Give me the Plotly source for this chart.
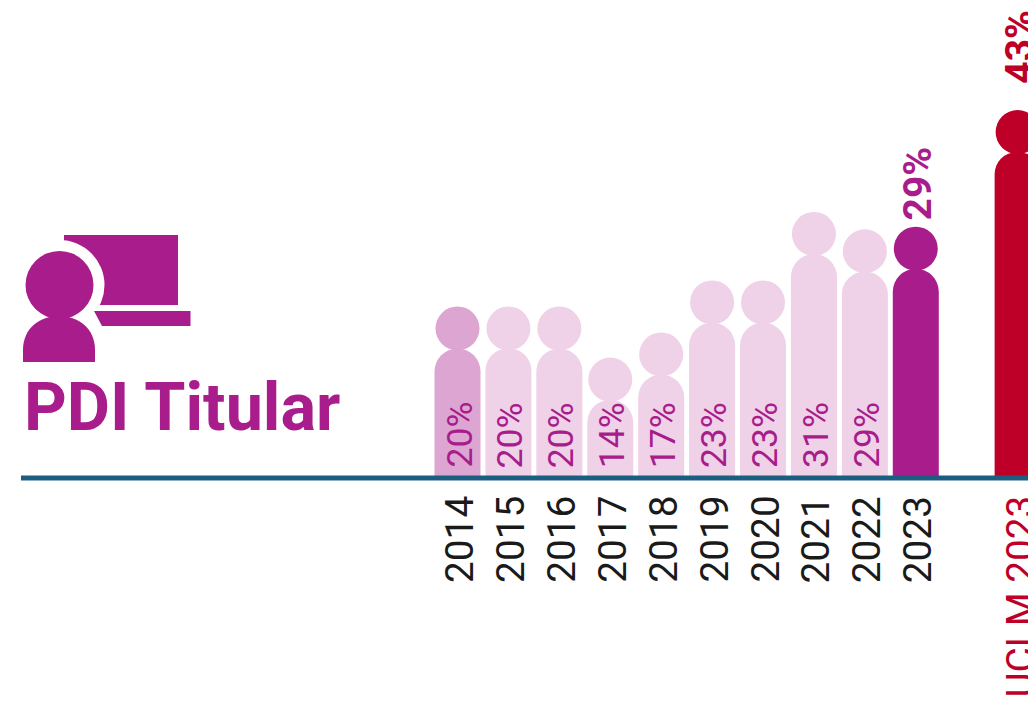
import plotly.graph_objects as go

# ---- data ----
years = ["2014", "2015", "2016", "2017", "2018", "2019", "2020", "2021", "2022", "2023"]
values = [20.0, 20.0, 20.0, 14.1, 17.0, 23.0, 23.0, 30.9, 28.9, 29.2]
value_labels = ["20%", "20%", "20%", "14%", "17%", "23%", "23%", "31%", "29%", "29%"]
positions = [0, 1, 2, 3, 4, 5, 6, 7, 8, 9]
uclm_label = "UCLM 2023"
uclm_value = 42.65
uclm_value_label = "43%"
uclm_position = 11
title_text = "PDI Titular"

# ---- style ----
PURPLE = "#A81C8B"
LIGHT = "#EFD1E8"
MID = "#DCA5D2"
CRIMSON = "#BE0029"
NAVY = "#1B5E82"
BLACK = "#1a1a1a"
FONT = "Roboto"
W, H = 1028, 702
BASE = 5.07
HEAD_OFFSET = 2.32
PX_PER_UNIT = 8.67
BASE_PX = 478
PX_PER_X = 50.92
X0_PX = 457.5

colors = [MID] + [LIGHT] * 8 + [PURPLE] + [CRIMSON]
all_x = positions + [uclm_position]
all_v = values + [uclm_value]

fig = go.Figure()
fig.add_trace(go.Bar(x=all_x, y=all_v, width=46 / PX_PER_X,
                     marker=dict(color=colors, line=dict(width=0)), hoverinfo="skip", showlegend=False))
fig.add_trace(go.Scatter(x=all_x, y=[v + HEAD_OFFSET for v in all_v], mode="markers",
                         marker=dict(size=44, color=colors, line=dict(width=0)), hoverinfo="skip",
                         showlegend=False, cliponaxis=False))

ann = []
def label(x, y, text, color, size, anchor, bold=False, yshift=0):
    ann.append(dict(x=x, y=y, xref="x", yref="y", text=f"<b>{text}</b>" if bold else text,
                    textangle=-90, showarrow=False, xanchor="center", yanchor=anchor,
                    xshift=2, yshift=yshift, borderpad=0,
                    font=dict(family=FONT, size=size, color=color)))

for x, y, v, t in zip(positions, years, values, value_labels):
    label(x, BASE, y, BLACK, 38.8, "top", yshift=-17)
    if y != years[-1]:
        label(x, BASE, t, PURPLE, 35.5, "bottom", yshift=9)
    else:
        label(x, v + HEAD_OFFSET, t, PURPLE, 39, "bottom", bold=True, yshift=27)
label(uclm_position, BASE, uclm_label, CRIMSON, 38.8, "top", yshift=-17)
label(uclm_position, uclm_value + HEAD_OFFSET, uclm_value_label, CRIMSON, 39, "bottom", bold=True, yshift=47)

ann.append(dict(x=22.5 / W, y=1 - 407 / H, xref="paper", yref="paper", text=f"<b>{title_text}</b>",
                showarrow=False, xanchor="left", yanchor="middle", borderpad=0,
                font=dict(family=FONT, size=66.5, color=PURPLE)))

def px(x):
    return x / W
def py(y):
    return 1 - y / H
def circle(cx, cy, r, color):
    return dict(type="circle", xref="paper", yref="paper", x0=px(cx - r), x1=px(cx + r),
                y0=py(cy + r), y1=py(cy - r), fillcolor=color, line=dict(width=0), layer="above")
def poly(points, color):
    d = "M " + " L ".join(f"{px(a):.5f},{py(b):.5f}" for a, b in points) + " Z"
    return dict(type="path", path=d, xref="paper", yref="paper", fillcolor=color, line=dict(width=0), layer="above")

body = (f"M {px(23):.5f},{py(362):.5f} L {px(23):.5f},{py(350):.5f} "
        f"C {px(23):.5f},{py(328):.5f} {px(40):.5f},{py(316):.5f} {px(59):.5f},{py(316):.5f} "
        f"C {px(78):.5f},{py(316):.5f} {px(95):.5f},{py(328):.5f} {px(95):.5f},{py(350):.5f} "
        f"L {px(95):.5f},{py(362):.5f} Z")

shapes = [
    poly([(64, 235), (178, 235), (178, 305), (64, 305)], PURPLE),
    circle(59.5, 285, 45, "white"),
    poly([(94, 311), (190.5, 311), (190.5, 326), (102, 326)], PURPLE),
    circle(59.5, 285, 34, PURPLE),
    dict(type="path", path=body, xref="paper", yref="paper", fillcolor=PURPLE, line=dict(width=0), layer="above"),
    dict(type="line", xref="paper", yref="paper", x0=px(21), x1=1, y0=py(BASE_PX), y1=py(BASE_PX),
         line=dict(color=NAVY, width=5), layer="above"),
]

fig.update_layout(
    width=W, height=H, margin=dict(l=0, r=0, t=0, b=0),
    paper_bgcolor="white", plot_bgcolor="white",
    barcornerradius=23, showlegend=False,
    xaxis=dict(range=[-X0_PX / PX_PER_X, (W - X0_PX) / PX_PER_X], visible=False, fixedrange=True),
    yaxis=dict(domain=[1 - BASE_PX / H, 1], range=[BASE, BASE + BASE_PX / PX_PER_UNIT], visible=False, fixedrange=True),
    annotations=ann, shapes=shapes,
)
fig.write_html("out.html", config={"displayModeBar": False},
               post_script="document.body.style.margin='0';document.body.style.overflow='hidden';")
